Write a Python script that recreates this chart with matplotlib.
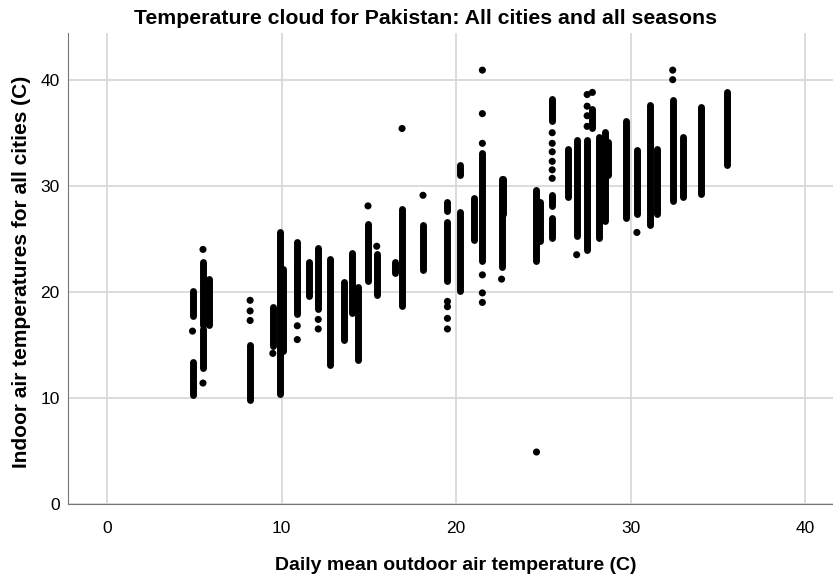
import matplotlib
matplotlib.use('Agg')
import matplotlib.pyplot as plt

plt.rcParams['font.family'] = ['Liberation Sans', 'DejaVu Sans']

# dense runs of points: outdoor temp, lowest and highest indoor temp of the run
seg_x = [4.9, 4.9, 5.5, 5.5, 5.85, 8.2, 9.5, 9.9, 10.1, 10.9, 10.9, 11.6, 12.1, 12.75,
         13.6, 14.05, 14.4, 14.95, 15.45, 16.5, 16.9, 18.1, 19.5, 19.5, 20.2, 20.2,
         21.0, 21.5, 22.6, 22.7, 24.6, 24.8, 25.5, 25.5, 25.5, 26.4, 26.9, 27.5, 27.8,
         28.2, 28.5, 28.7, 29.7, 30.35, 31.1, 31.5, 32.4, 33.0, 34.0, 35.5]
seg_lo = [17.7, 10.3, 16.9, 12.8, 16.9, 9.8, 14.9, 10.4, 14.4, 19.8, 17.9, 19.6, 18.4, 13.1,
          15.5, 18.0, 13.6, 21.0, 19.7, 21.8, 18.7, 22.1, 27.6, 21.0, 31.0, 20.1,
          24.9, 22.9, 22.3, 27.3, 22.9, 24.8, 36.1, 28.1, 25.1, 28.9, 25.3, 23.9, 35.4,
          25.1, 26.7, 31.0, 27.0, 27.3, 26.3, 27.3, 28.6, 28.9, 29.2, 32.0]
seg_hi = [20.1, 13.4, 22.8, 16.5, 21.2, 15.0, 18.6, 25.6, 22.2, 22.0, 24.7, 22.8, 24.1, 23.1,
          20.9, 23.7, 20.5, 26.4, 23.6, 22.8, 27.8, 26.3, 28.5, 26.6, 32.0, 27.5,
          28.8, 33.1, 30.6, 30.6, 29.6, 28.5, 38.2, 29.1, 27.0, 33.5, 34.3, 34.3, 37.2,
          34.6, 35.1, 34.1, 36.1, 33.4, 37.6, 33.5, 38.1, 34.6, 37.4, 38.8]

# single points that stand apart from the runs
dot_x = [4.9, 5.5, 5.5, 8.2, 8.2, 8.2, 9.5, 10.9, 10.9, 12.1, 12.1, 14.95, 15.45, 16.9,
         18.1, 19.5, 19.5, 19.5, 19.5, 21.5, 21.5, 21.5, 21.5, 21.5, 21.5, 22.6, 24.6,
         25.5, 25.5, 25.5, 25.5, 25.5, 25.5, 26.9, 27.5, 27.5, 27.5, 27.5, 27.8, 30.35,
         32.4, 32.4]
dot_y = [16.3, 24.0, 11.4, 19.2, 18.2, 17.3, 14.2, 16.8, 15.5, 17.4, 16.5, 28.1, 24.3, 35.4,
         29.1, 19.1, 18.6, 17.5, 16.5, 40.9, 36.8, 34.0, 21.6, 19.9, 19.0, 21.2, 4.9,
         35.0, 34.0, 33.2, 32.3, 31.5, 30.7, 23.5, 38.6, 37.5, 36.6, 35.6, 38.8, 25.6,
         40.9, 40.0]

fig = plt.figure(figsize=(8.33, 5.78), dpi=100)
ax = fig.add_axes([68 / 833, 1 - 504 / 578, 1 - 68 / 833, (504 - 33) / 578])

ax.set_xlim(-2.23, 41.58)
ax.set_ylim(0, 44.4)
ax.set_xticks([0, 10, 20, 30, 40])
ax.set_yticks([0, 10, 20, 30, 40])
ax.grid(True, color='#d6d6d6', lw=1.2)
ax.set_axisbelow(True)
ax.tick_params(length=0, labelsize=12.5, pad=12)
ax.tick_params(axis='y', pad=6)
for s in ['top', 'right']:
    ax.spines[s].set_visible(False)
ax.spines['left'].set_color('#777777')
ax.spines['bottom'].set_color('#777777')

lc = ax.vlines(seg_x, seg_lo, seg_hi, colors='black', lw=5)
lc.set_capstyle('round')
ax.scatter(dot_x, dot_y, s=26, c='black', edgecolors='none', zorder=3)

fig.text(425 / 833, 1 - 18 / 578, 'Temperature cloud for Pakistan: All cities and all seasons',
         ha='center', va='center', fontsize=15.3, fontweight='bold')
fig.text(456 / 833, 1 - 565 / 578, 'Daily mean outdoor air temperature (C)',
         ha='center', va='center', fontsize=14, fontweight='bold')
fig.text(22 / 833, 1 - 272 / 578, 'Indoor air temperatures for all cities (C)',
         ha='center', va='center', rotation=90, fontsize=15, fontweight='bold')

fig.savefig('out.png', dpi=100)
